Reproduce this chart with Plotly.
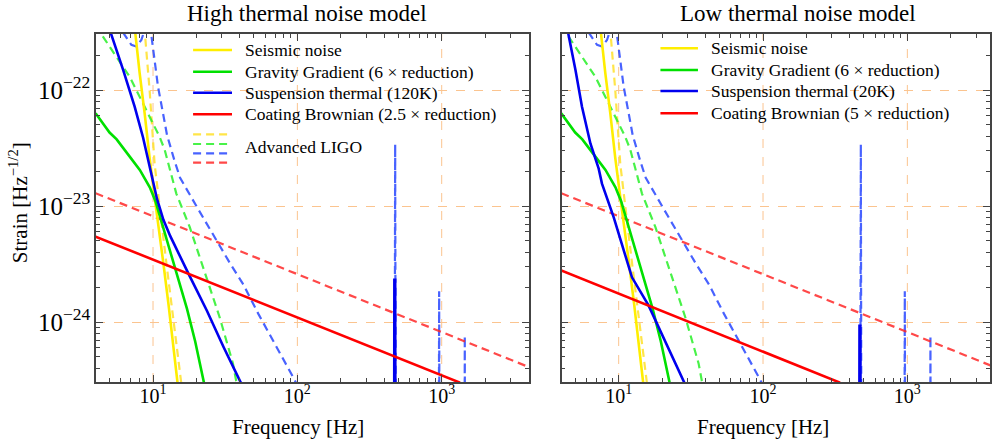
import plotly.graph_objects as go

# ---------------- data ----------------
# Seismic noise (same in both panels)
freq_seis = [7.0, 7.55, 8.08, 8.75, 9.47, 10.4, 11.23, 11.84, 12.82, 14.66, 15.5]
seis = [7.2e-22, 2.99e-22, 1.4e-22, 6.3e-23, 2.6e-23, 1.05e-23, 5.3e-24, 3.1e-24, 1.4e-24, 3.1e-25, 1.8e-25]

# Advanced LIGO seismic
freq_seis_al = [8.5, 8.8, 9.47, 10.26, 12.36, 13.53, 15.7, 16.5]
seis_al = [6e-22, 3.0e-22, 1.0e-22, 2.3e-23, 3.26e-24, 1.26e-24, 3.0e-25, 1.8e-25]

# Gravity gradient (6x reduction), same in both panels
freq_gg = [4.0, 5.0, 5.6, 6.5, 7.0, 8.1, 9.5, 10.4, 11.2, 12.5, 14.66, 17.2, 19.6, 22.3, 26.0]
gg = [6.3e-23, 4.3e-23, 3.75e-23, 2.9e-23, 2.6e-23, 2.05e-23, 1.45e-23, 1.1e-23, 8.0e-24,
      5.2e-24, 2.6e-24, 1.3e-24, 6.8e-25, 3.05e-25, 1.3e-25]

# Advanced LIGO gravity gradient
freq_gg_al = [4.0, 4.46, 5.57, 6.89, 8.08, 9.47, 11.11, 12.05, 14.5, 17.95, 22.18, 28.94, 35.78, 37.7, 45.0]
gg_al = [3.6e-22, 2.93e-22, 1.94e-22, 1.30e-22, 8.75e-23, 5.88e-23, 3.95e-23, 3.05e-23, 1.28e-23,
         6.6e-24, 2.97e-24, 1.10e-24, 4.4e-25, 3.1e-25, 1.5e-25]

# Suspension thermal, 120K (high model), incl. violin mode
freq_susp_high = [4.0, 5.15, 6.2, 7.46, 8.53, 9.47, 10.66, 11.8, 13.17, 17.63, 23.63, 30.8, 40.2, 45.0,
                  466.0, 470.0, 476.0, 480.0]
susp_high = [7e-22, 2.99e-22, 1.5e-22, 7.2e-23, 3.9e-23, 2.25e-23, 1.15e-23, 7.6e-24, 5.5e-24, 2.6e-24,
             1.25e-24, 6.1e-25, 3.11e-25, 2.3e-25, 1e-27, 2.31e-24, 2.31e-24, 1e-27]

# Suspension thermal, 20K (low model), incl. violin mode
freq_susp_low = [4.0, 4.51, 5.02, 5.57, 6.37, 7.27, 7.66, 9.23, 10.83, 12.36, 16.1, 28.2, 32.0,
                 462.0, 466.0, 472.0, 476.0]
susp_low = [6.2e-22, 2.99e-22, 1.49e-22, 7.18e-23, 3.46e-23, 2.10e-23, 1.56e-23, 8.02e-24, 4.14e-24,
            2.43e-24, 1.39e-24, 3.11e-25, 2.2e-25, 1e-27, 9.3e-25, 9.3e-25, 1e-27]

# Advanced LIGO suspension thermal, incl. violin modes
freq_susp_al = [5.5, 6.36, 7.08, 7.66, 8.30, 8.53, 9.1, 9.73, 10.26, 10.83, 11.73, 12.5, 14.1, 15.4,
                20.15, 26.2, 34.2, 42.3, 53.8, 93.8, 110.0, 470.0, 476.0, 482.0,
                950.0, 960.0, 970.0, 1435.0, 1445.0, 1455.0]
susp_al = [3.9e-22, 2.99e-22, 2.45e-22, 2.37e-22, 2.70e-22, 2.99e-22, 1e-20, 2.99e-22, 1.70e-22,
           1.07e-22, 6.29e-23, 4.1e-23, 2.45e-23, 1.75e-23, 9.8e-24, 5.6e-24, 3.2e-24, 2.1e-24,
           1.17e-24, 3.32e-25, 2.26e-25, 5e-27, 3.4e-23, 5e-27, 2e-27, 1.84e-24, 2e-27,
           1e-27, 7.6e-25, 1e-27]

# Coating Brownian
freq_coat_high = [4.0, 1340.0]
coat_high = [5.45e-24, 3.0e-25]
freq_coat_low = [4.0, 342.0]
coat_low = [2.78e-24, 3.0e-25]
freq_coat_al = [4.0, 4000.0]
coat_al = [1.29e-23, 4.1e-25]

# axis ticks
x_tickvals = [10, 100, 1000]
x_ticktext = ["10<sup>1</sup>", "10<sup>2</sup>", "10<sup>3</sup>"]

# text
titles = ["High thermal noise model", "Low thermal noise model"]
legend_high = ["Seismic noise", "Gravity Gradient (6 × reduction)",
               "Suspension thermal (120K)", "Coating Brownian (2.5 × reduction)"]
legend_low = ["Seismic noise", "Gravity Gradient (6 × reduction)",
              "Suspension thermal (20K)", "Coating Brownian (5 × reduction)"]
aligo_label = "Advanced LIGO"

# ---------------- styling ----------------
SERIF = "Liberation Serif, Times New Roman, serif"
YEL, GRN, BLU, RED = "#ffee00", "#00e000", "#0000ee", "#ff0000"
YEL_D, GRN_D, BLU_D, RED_D = "rgba(255,225,40,0.85)", "rgba(40,240,40,0.85)", "rgba(40,70,255,0.85)", "rgba(255,40,40,0.85)"
DASH = "8px,5px"
SW, DW = 2.6, 2.2
GRID = "#fbc48f"

W, H = 992, 441
ML, MR, MT, MB = 96, 0, 34, 59
PW, PH = W - ML - MR, H - MT - MB


def px(x):
    return (x - ML) / PW


def py(y):
    return 1 - (y - MT) / PH


fig = go.Figure()

panels = [
    ("x", "y", susp_high, freq_susp_high, coat_high, freq_coat_high),
    ("x2", "y2", susp_low, freq_susp_low, coat_low, freq_coat_low),
]
for xa, ya, sus, fsus, coat, fcoat in panels:
    # Advanced LIGO (dashed)
    for f, v, c in [(freq_seis_al, seis_al, YEL_D), (freq_gg_al, gg_al, GRN_D),
                    (freq_susp_al, susp_al, BLU_D), (freq_coat_al, coat_al, RED_D)]:
        fig.add_trace(go.Scatter(x=f, y=v, mode="lines", xaxis=xa, yaxis=ya, showlegend=False,
                                 line=dict(color=c, width=DW, dash=DASH), hoverinfo="skip"))
    # models (solid)
    for f, v, c in [(freq_seis, seis, YEL), (freq_gg, gg, GRN), (fsus, sus, BLU), (fcoat, coat, RED)]:
        fig.add_trace(go.Scatter(x=f, y=v, mode="lines", xaxis=xa, yaxis=ya, showlegend=False,
                                 line=dict(color=c, width=SW), hoverinfo="skip"))

MINOR = dict(ticks="inside", ticklen=4, tickwidth=1, tickcolor="#444", dtick="D1",
             showgrid=False, gridcolor="rgba(0,0,0,0)")
AX = dict(type="log", exponentformat="power", showexponent="all",
          ticks="inside", ticklen=7, tickwidth=1.2, tickcolor="#444", minor=MINOR,
          showline=True, linecolor="#444", linewidth=1.5, mirror="allticks",
          showgrid=True, gridcolor=GRID, griddash="dash", gridwidth=1, zeroline=False,
          tickfont=dict(family=SERIF, size=20, color="black"))
XAX = dict(AX, tickmode="array", tickvals=x_tickvals, ticktext=x_ticktext, ticklabelstandoff=-5,
           showgrid=False)
YAX = dict(AX, dtick=1)

x_left = [0.605, 3.605]
x_right = [0.605, 0.605 + (PW - (562.7 - ML)) / (434 / 3.0)]
y_rng = [-24.517, -21.517]

fig.update_layout(
    width=W, height=H, margin=dict(l=ML, r=MR, t=MT, b=MB),
    paper_bgcolor="white", plot_bgcolor="white", showlegend=False,
    xaxis=dict(XAX, domain=[0, 434 / PW], range=x_left, anchor="y"),
    yaxis=dict(YAX, domain=[0, 1], range=y_rng, anchor="x"),
    xaxis2=dict(XAX, domain=[(562.7 - ML) / PW, 1], range=x_right, anchor="y2"),
    yaxis2=dict(YAX, domain=[0, 1], range=y_rng, anchor="x2", showticklabels=False),
)

ann = []
shapes = []
# vertical grid lines at the decade ticks
for xr, yr in (("x", "y domain"), ("x2", "y2 domain")):
    for tv in x_tickvals:
        shapes.append(dict(type="line", xref=xr, yref=yr, x0=tv, x1=tv, y0=0, y1=1, layer="below",
                           line=dict(color=GRID, width=1, dash="dash")))

TFONT = dict(family=SERIF, size=23, color="black")
ann.append(dict(text=titles[0], x=px(307), y=py(14), xref="paper", yref="paper",
                xanchor="center", yanchor="middle", showarrow=False, font=TFONT))
ann.append(dict(text=titles[1], x=px(800), y=py(14), xref="paper", yref="paper",
                xanchor="center", yanchor="middle", showarrow=False, font=TFONT))
AFONT = dict(family=SERIF, size=21, color="black")
for xc in (298, 764):
    ann.append(dict(text="Frequency [Hz]", x=px(xc), y=py(427), xref="paper", yref="paper",
                    xanchor="center", yanchor="middle", showarrow=False, font=AFONT))
ann.append(dict(text="Strain [Hz<sup>−1/2</sup>]", x=px(18), y=py(203), xref="paper", yref="paper",
                xanchor="center", yanchor="middle", textangle=-90, showarrow=False, font=AFONT))

# legends
LFONT = dict(family=SERIF, size=17.5, color="black")
for (x0, x1, xt, rows, labels) in [(193.3, 232.3, 243.3, [50, 71.7, 92.7, 114.3], legend_high),
                                    (661.7, 699.3, 710.7, [48.3, 70, 91, 113.3], legend_low)]:
    for yy, lab, c in zip(rows, labels, [YEL, GRN, BLU, RED]):
        shapes.append(dict(type="line", xref="paper", yref="paper", x0=px(x0), x1=px(x1), y0=py(yy), y1=py(yy),
                           line=dict(color=c, width=SW)))
        ann.append(dict(text=lab, x=px(xt), y=py(yy), xref="paper", yref="paper", xanchor="left",
                        yanchor="middle", showarrow=False, font=LFONT))
for yy, c in zip([134.3, 144, 153.3, 162.7], [YEL_D, GRN_D, BLU_D, RED_D]):
    shapes.append(dict(type="line", xref="paper", yref="paper", x0=px(193.3), x1=px(232.3), y0=py(yy), y1=py(yy),
                       line=dict(color=c, width=DW, dash=DASH)))
ann.append(dict(text=aligo_label, x=px(243.3), y=py(147), xref="paper", yref="paper", xanchor="left",
                yanchor="middle", showarrow=False, font=LFONT))

fig.update_layout(annotations=ann, shapes=shapes)
fig.write_html("out.html")
